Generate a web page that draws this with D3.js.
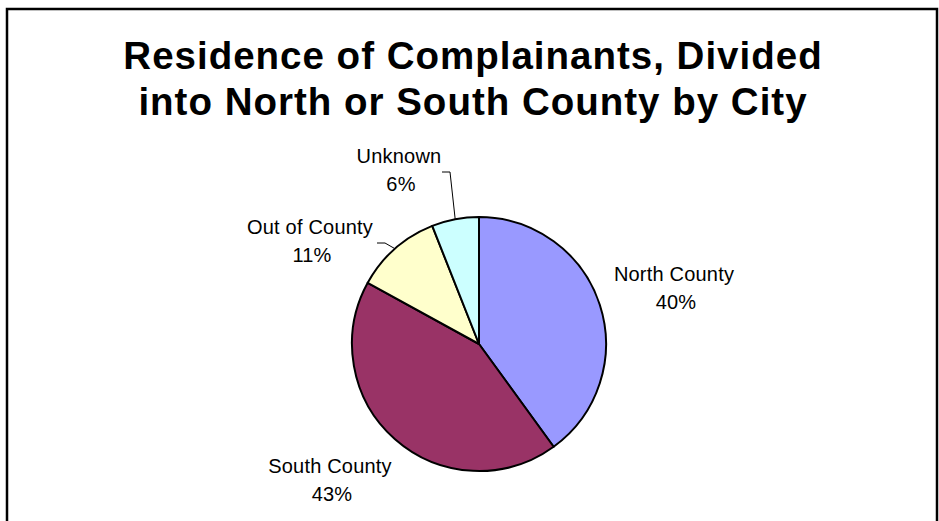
<!DOCTYPE html>
<html>
<head>
<meta charset="utf-8">
<script src="https://cdn.jsdelivr.net/npm/d3@7"></script>
<style>
  html, body { margin: 0; padding: 0; background: #fff; }
  svg { display: block; }
</style>
</head>
<body>
<svg id="chart" width="939" height="521"></svg>
<script>
const categories = ["North County", "South County", "Out of County", "Unknown"];
const values = [40, 43, 11, 6];
const percentLabels = ["40%", "43%", "11%", "6%"];
const colors = ["#9999FF", "#993366", "#FFFFCC", "#CCFFFF"];
const titleLines = ["Residence of Complainants, Divided", "into North or South County by City"];

const svg = d3.select("#chart");
const W = 939, H = 521;

svg.append("rect").attr("x", 0).attr("y", 0).attr("width", W).attr("height", H).attr("fill", "#fff");
svg.append("rect").attr("x", 7).attr("y", 9).attr("width", 930).attr("height", 600)
  .attr("fill", "none").attr("stroke", "#000").attr("stroke-width", 2.5);

svg.selectAll("text.title").data(titleLines).enter().append("text")
  .attr("class", "title")
  .attr("x", 473).attr("y", (d, i) => 68.5 + i * 46)
  .attr("text-anchor", "middle")
  .attr("font-family", "Liberation Sans, Arial, sans-serif")
  .attr("font-weight", "bold").attr("font-size", 38.5)
  .attr("letter-spacing", 1.0)
  .attr("fill", "#000")
  .text(d => d);

const cx = 479, cy = 344, r = 127;
const pie = d3.pie().sort(null).value(d => d)(values);
const arc = d3.arc().innerRadius(0).outerRadius(r);
const g = svg.append("g").attr("transform", `translate(${cx},${cy})`);
g.selectAll("path").data(pie).enter().append("path")
  .attr("d", arc)
  .attr("fill", (d, i) => colors[i])
  .attr("stroke", "#000").attr("stroke-width", 2).attr("stroke-linejoin", "round");

// label layout (relative to pie center)
const labelLayout = [
  { dx: 195, dy: -63 },   // North County
  { dx: -149, dy: 129 },  // South County
  { dx: -169, dy: -110 }, // Out of County
  { dx: -80, dy: -181 }   // Unknown
];
const lg = svg.append("g").attr("transform", `translate(${cx},${cy})`);
categories.forEach((c, i) => {
  const t = lg.append("text")
    .attr("text-anchor", "middle")
    .attr("font-family", "Liberation Sans, Arial, sans-serif")
    .attr("font-size", 20)
    .attr("letter-spacing", 0.2)
    .attr("fill", "#000");
  t.append("tspan").attr("x", labelLayout[i].dx).attr("y", labelLayout[i].dy).text(c);
  t.append("tspan").attr("x", labelLayout[i].dx + 2).attr("y", labelLayout[i].dy + 27.5).text(percentLabels[i]);
});

// leader lines for small slices, ending at slice arc midpoints
function edgePoint(d, rr) {
  const a = (d.startAngle + d.endAngle) / 2;
  return [Math.sin(a) * rr, -Math.cos(a) * rr];
}
const unkEnd = edgePoint(pie[3], r);
const outEnd = edgePoint(pie[2], r);
lg.append("path")
  .attr("d", d3.line()([[-37, -172], [-29, -172], unkEnd]))
  .attr("fill", "none").attr("stroke", "#000").attr("stroke-width", 1);
lg.append("path")
  .attr("d", d3.line()([[-102, -101], [-94, -101], outEnd]))
  .attr("fill", "none").attr("stroke", "#000").attr("stroke-width", 1);
</script>
</body>
</html>
